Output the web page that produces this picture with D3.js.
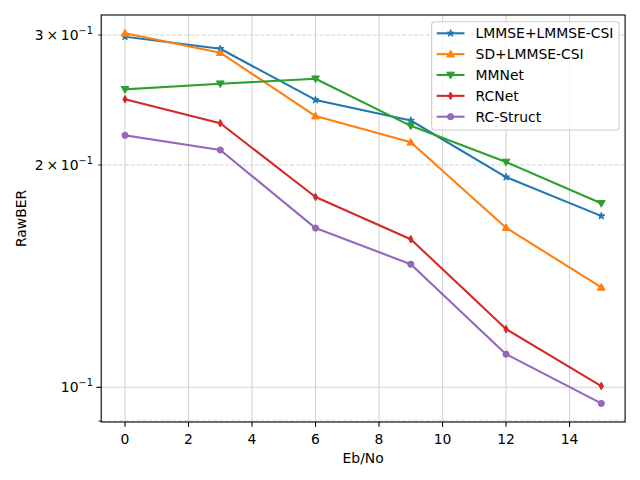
<!DOCTYPE html>
<html>
<head>
<meta charset="utf-8">
<script src="https://cdn.jsdelivr.net/npm/d3@7"></script>
<style>
  body { margin: 0; background: #fff; }
  text { font-family: "DejaVu Sans", sans-serif; }
</style>
</head>
<body>
<div id="chart"></div>
<script>
// Eb/No values and RawBER per method
const ebno = [0, 3, 6, 9, 12, 15];
const seriesNames = ["LMMSE+LMMSE-CSI", "SD+LMMSE-CSI", "MMNet", "RCNet", "RC-Struct"];
const lmmseLmmse = [0.2984, 0.2874, 0.2450, 0.2298, 0.1926, 0.1706];
const sdLmmse    = [0.3016, 0.2839, 0.2330, 0.2147, 0.1645, 0.1366];
const mmnet      = [0.2532, 0.2577, 0.2617, 0.2260, 0.2019, 0.1775];
const rcnet      = [0.2455, 0.2278, 0.1810, 0.1587, 0.1199, 0.1004];
const rcStruct   = [0.2194, 0.2096, 0.1643, 0.1468, 0.1109, 0.0951];
const xTicks = [0, 2, 4, 6, 8, 10, 12, 14];
const yMajorTicks = [0.1];
const yMinorTicks = [0.09, 0.2, 0.3];
const yMinorLabels = {0.2: "2", 0.3: "3"};

const colors = ["#1f77b4", "#ff7f0e", "#2ca02c", "#d62728", "#9467bd"];
const markers = ["star", "up", "down", "thin", "circle"];
const allSeries = [lmmseLmmse, sdLmmse, mmnet, rcnet, rcStruct];

const W = 640, H = 480;
const L = 101.2, R = 625.1, T = 15, B = 422;

const svg = d3.select("#chart").append("svg")
    .attr("width", W).attr("height", H);

const x = d3.scaleLinear().domain([-0.75, 15.75]).range([L, R]);
const y = d3.scaleLog().domain([0.08975, 0.3193]).range([B, T]);

// grid
const grid = svg.append("g");
grid.selectAll(".vg").data(xTicks).join("line")
    .attr("x1", d => x(d)).attr("x2", d => x(d))
    .attr("y1", T).attr("y2", B)
    .attr("stroke", "#d3d3d3").attr("stroke-width", 1.1);
grid.selectAll(".hg").data(yMajorTicks).join("line")
    .attr("x1", L).attr("x2", R)
    .attr("y1", d => y(d)).attr("y2", d => y(d))
    .attr("stroke", "#d3d3d3").attr("stroke-width", 1.1);
grid.selectAll(".hm").data(yMinorTicks).join("line")
    .attr("x1", L).attr("x2", R)
    .attr("y1", d => y(d)).attr("y2", d => y(d))
    .attr("stroke", "#d3d3d3").attr("stroke-width", 1.1)
    .attr("stroke-dasharray", "4.1,1.8");

function markerPath(kind) {
    if (kind == "star") return d3.symbol(d3.symbolStar, 16)();
    if (kind == "up") return d3.symbol(d3.symbolTriangle, 26)();
    if (kind == "down") return d3.symbol(d3.symbolTriangle, 26)();
    if (kind == "thin") return "M0,-3.8L2.1,0L0,3.8L-2.1,0Z";
    return d3.symbol(d3.symbolCircle, 30)();
}
function markerTransform(kind, px, py) {
    if (kind == "down") return `translate(${px},${py - 0.6}) rotate(180)`;
    if (kind == "up") return `translate(${px},${py + 0.6})`;
    return `translate(${px},${py})`;
}

const line = d3.line().x((d, i) => x(ebno[i])).y(d => y(d));
const plot = svg.append("g");

allSeries.forEach((vals, k) => {
    plot.append("path")
        .attr("d", line(vals))
        .attr("fill", "none")
        .attr("stroke", colors[k])
        .attr("stroke-width", 2.08)
        .attr("stroke-linejoin", "round")
        .attr("stroke-linecap", "square");
    plot.selectAll(".m" + k).data(vals).join("path")
        .attr("d", markerPath(markers[k]))
        .attr("transform", (d, i) => markerTransform(markers[k], x(ebno[i]), y(d)))
        .attr("fill", colors[k])
        .attr("stroke", colors[k])
        .attr("stroke-width", 1);
});

// spines
svg.append("rect")
    .attr("x", L).attr("y", T)
    .attr("width", R - L).attr("height", B - T)
    .attr("fill", "none").attr("stroke", "#000").attr("stroke-width", 1.1);

// x axis
const xAxis = svg.append("g");
xAxis.selectAll("line").data(xTicks).join("line")
    .attr("x1", d => x(d)).attr("x2", d => x(d))
    .attr("y1", B).attr("y2", B + 4.86)
    .attr("stroke", "#000").attr("stroke-width", 1.1);
xAxis.selectAll("text").data(xTicks).join("text")
    .attr("x", d => x(d)).attr("y", B + 21.5)
    .attr("text-anchor", "middle")
    .attr("font-size", 13.9)
    .text(d => d);

// y axis
const yAxis = svg.append("g");
yAxis.selectAll(".maj").data(yMajorTicks).join("line")
    .attr("x1", L - 4.86).attr("x2", L)
    .attr("y1", d => y(d)).attr("y2", d => y(d))
    .attr("stroke", "#000").attr("stroke-width", 1.1);
yAxis.selectAll(".min").data(yMinorTicks).join("line")
    .attr("x1", L - 2.78).attr("x2", L)
    .attr("y1", d => y(d)).attr("y2", d => y(d))
    .attr("stroke", "#000").attr("stroke-width", 0.8);

function tickLabel(yy, prefix) {
    const t = yAxis.append("text")
        .attr("x", L - 8.4).attr("y", yy + 5)
        .attr("text-anchor", "end")
        .attr("font-size", 13.9);
    t.append("tspan").text(prefix + "10");
    t.append("tspan").attr("dy", -6).attr("font-size", 9.7).text("\u22121");
}
yMajorTicks.forEach(v => tickLabel(y(v), ""));
yMinorTicks.filter(v => yMinorLabels[v])
    .forEach(v => tickLabel(y(v), yMinorLabels[v] + "\u2009\u00d7\u2009"));

// axis labels
svg.append("text")
    .attr("x", (L + R) / 2).attr("y", B + 41)
    .attr("text-anchor", "middle").attr("font-size", 13.9)
    .text("Eb/No");
svg.append("text")
    .attr("transform", `translate(26,${(T + B) / 2}) rotate(-90)`)
    .attr("text-anchor", "middle").attr("font-size", 13.9)
    .text("RawBER");

// legend
const lg = svg.append("g").attr("transform", "translate(431.7,21.7)");
lg.append("rect")
    .attr("width", 187.3).attr("height", 108.3)
    .attr("rx", 3)
    .attr("fill", "#fff").attr("fill-opacity", 0.8)
    .attr("stroke", "#cccccc").attr("stroke-width", 1.1);
seriesNames.forEach((name, k) => {
    const ry = 11.6 + k * 20.85;
    lg.append("line")
        .attr("x1", 5).attr("x2", 32.8)
        .attr("y1", ry).attr("y2", ry)
        .attr("stroke", colors[k]).attr("stroke-width", 2.08);
    lg.append("path")
        .attr("d", markerPath(markers[k]))
        .attr("transform", markerTransform(markers[k], 18.9, ry))
        .attr("fill", colors[k]).attr("stroke", colors[k]).attr("stroke-width", 1);
    lg.append("text")
        .attr("x", 43.9).attr("y", ry + 5)
        .attr("font-size", 13.9)
        .text(name);
});
</script>
</body>
</html>
